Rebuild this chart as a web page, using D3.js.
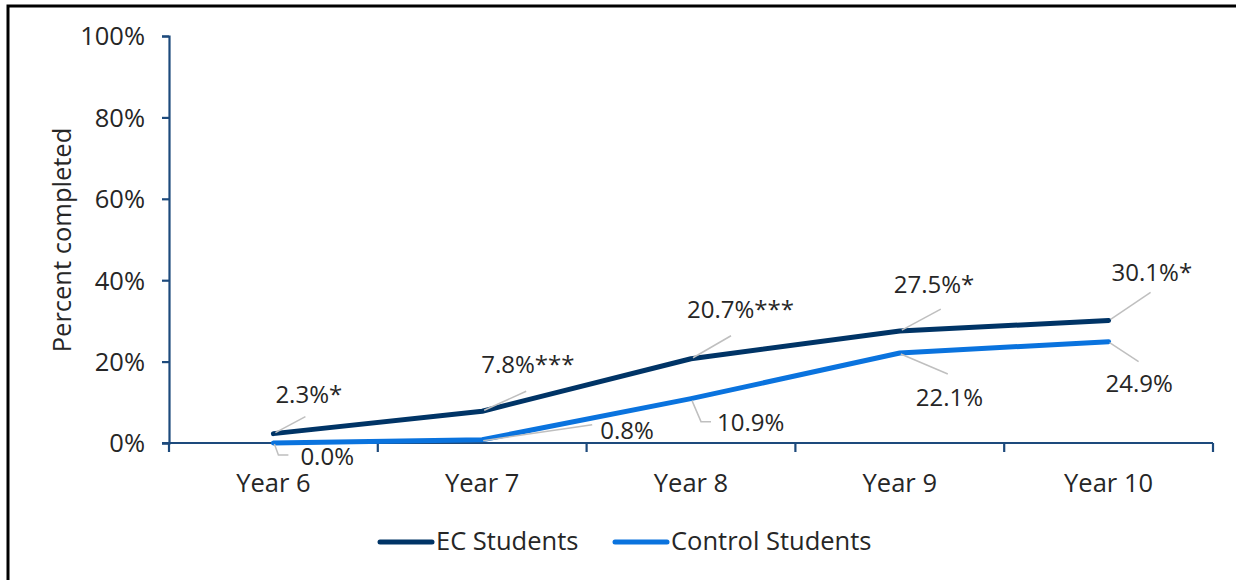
<!DOCTYPE html>
<html>
<head>
<meta charset="utf-8">
<script src="https://cdn.jsdelivr.net/npm/d3@7"></script>
<style>
  html, body { margin: 0; padding: 0; background: #fff; }
  svg { display: block; }
  text { font-family: "Open Sans", sans-serif; fill: #262626; }
</style>
</head>
<body>
<svg id="chart" width="1236" height="580"></svg>
<script>
// ---- data ----
const categories = ["Year 6", "Year 7", "Year 8", "Year 9", "Year 10"];
const ecValues = [2.3, 7.8, 20.7, 27.5, 30.1];
const ecLabels = ["2.3%*", "7.8%***", "20.7%***", "27.5%*", "30.1%*"];
const controlValues = [0.0, 0.8, 10.9, 22.1, 24.9];
const controlLabels = ["0.0%", "0.8%", "10.9%", "22.1%", "24.9%"];
const yTicks = [0, 20, 40, 60, 80, 100];
const seriesNames = ["EC Students", "Control Students"];

// ---- layout ----
const svg = d3.select("#chart");
const W = 1236, H = 580;
const FS = "25.5px";   // axes, title, legend
const LFS = "24px";    // data labels
const plot = { left: 169, right: 1213, top: 36, bottom: 443 };
const colors = { ec: "#003466", control: "#0a73de", axis: "#1d4a7c", leader: "#bfbfbf" };

// frame (left and top edges)
svg.append("path")
  .attr("d", `M8,${H} L8,6 L${W},6`)
  .attr("fill", "none").attr("stroke", "#000").attr("stroke-width", 3);

const x = d3.scaleBand().domain(categories).range([plot.left, plot.right]).padding(0);
const y = d3.scaleLinear().domain([0, 100]).range([plot.bottom, plot.top]);
const cx = c => x(c) + x.bandwidth() / 2;

// y axis
const yAxis = svg.append("g").attr("transform", `translate(${plot.left},0)`)
  .call(d3.axisLeft(y).tickValues(yTicks).tickFormat(d => d + "%").tickSizeOuter(0).tickSize(7).tickPadding(17));
yAxis.select(".domain").attr("stroke", colors.axis).attr("stroke-width", 2.2);
yAxis.selectAll(".tick line").attr("stroke", colors.axis).attr("stroke-width", 2.2);
yAxis.selectAll(".tick text").style("font-size", FS).attr("fill", "#262626")
  .style("font-family", "'Open Sans', sans-serif").attr("dy", "0.35em");

// x axis: ticks at band boundaries
const xg = svg.append("g");
xg.append("line").attr("x1", plot.left - 7).attr("x2", plot.right)
  .attr("y1", y(0)).attr("y2", y(0)).attr("stroke", colors.axis).attr("stroke-width", 2.2);
const boundaries = categories.map(c => x(c)).concat([x(categories[categories.length - 1]) + x.bandwidth()]);
xg.selectAll("line.bt").data(boundaries).enter().append("line").attr("class", "bt")
  .attr("x1", d => d).attr("x2", d => d).attr("y1", y(0)).attr("y2", y(0) + 9)
  .attr("stroke", colors.axis).attr("stroke-width", 2.2);
xg.selectAll("text.xl").data(categories).enter().append("text").attr("class", "xl")
  .attr("x", d => cx(d)).attr("y", 492).attr("text-anchor", "middle")
  .style("font-size", FS).text(d => d);

// y title
svg.append("text").attr("transform", "translate(71,240) rotate(-90)")
  .attr("text-anchor", "middle").style("font-size", FS).text("Percent completed");

// lines
const line = d3.line().x((d, i) => cx(categories[i])).y(d => y(d));
svg.append("path").datum(controlValues).attr("d", line).attr("fill", "none")
  .attr("stroke", colors.control).attr("stroke-width", 5).attr("stroke-linejoin", "round").attr("stroke-linecap", "round");
svg.append("path").datum(ecValues).attr("d", line).attr("fill", "none")
  .attr("stroke", colors.ec).attr("stroke-width", 5).attr("stroke-linejoin", "round").attr("stroke-linecap", "round");

// data labels with leader lines (offsets relative to the point)
const ecLabelPos = [
  { pts: [[2, -1], [32, -17]], tx: 2, ty: -31 },
  { pts: [[2, -1], [44, -20]], tx: -1, ty: -38 },
  { pts: [[2, -1], [40, -23]], tx: -4, ty: -41 },
  { pts: [[2, -1], [41, -22]], tx: -6, ty: -38 },
  { pts: [[2, -1], [42, -28]], tx: 3, ty: -39 }
];
const ctlLabelPos = [
  { pts: [[1, 1], [5, 12], [15, 12]], tx: 27, ty: 22 },
  { pts: [[1, 1], [110, -15]], tx: 118, ty: -1 },
  { pts: [[1, 2], [10, 23], [20, 23]], tx: 26, ty: 32 },
  { pts: [[1, 1], [48, 21]], tx: 16, ty: 53 },
  { pts: [[1, 1], [30, 20]], tx: -3, ty: 50 }
];

function drawLabels(values, labels, pos) {
  values.forEach((v, i) => {
    const px = cx(categories[i]), py = y(v);
    const p = pos[i];
    svg.append("polyline")
      .attr("points", p.pts.map(q => [px + q[0], py + q[1]].join(",")).join(" "))
      .attr("fill", "none").attr("stroke", colors.leader).attr("stroke-width", 1.5);
    svg.append("text").attr("x", px + p.tx).attr("y", py + p.ty)
      .style("font-size", LFS).text(labels[i]);
  });
}
drawLabels(ecValues, ecLabels, ecLabelPos);
drawLabels(controlValues, controlLabels, ctlLabelPos);

// legend
const legend = [
  { name: seriesNames[0], color: colors.ec, x0: 380 },
  { name: seriesNames[1], color: colors.control, x0: 615 }
];
legend.forEach(l => {
  svg.append("line").attr("x1", l.x0).attr("x2", l.x0 + 52).attr("y1", 542).attr("y2", 542)
    .attr("stroke", l.color).attr("stroke-width", 5).attr("stroke-linecap", "round");
  svg.append("text").attr("x", l.x0 + 56).attr("y", 550).style("font-size", FS).text(l.name);
});
</script>
</body>
</html>
